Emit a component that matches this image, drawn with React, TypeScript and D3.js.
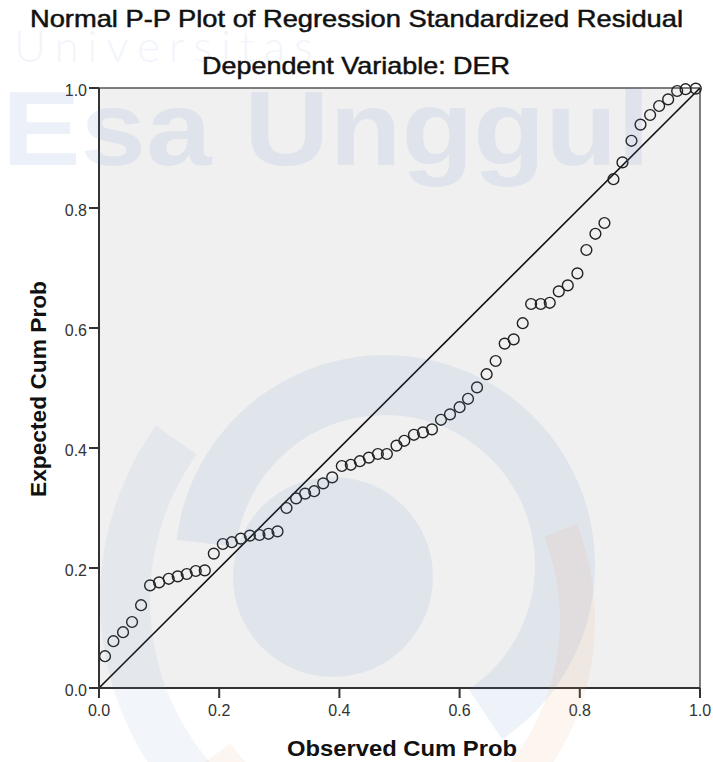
import * as d3 from "d3";

const observed = [
  0.01, 0.024, 0.04, 0.055, 0.07, 0.085, 0.1, 0.116, 0.131, 0.146,
  0.161, 0.176, 0.191, 0.206, 0.221, 0.236, 0.251, 0.267, 0.282, 0.297,
  0.312, 0.328, 0.343, 0.358, 0.373, 0.388, 0.404, 0.419, 0.434, 0.449,
  0.464, 0.479, 0.495, 0.508, 0.524, 0.539, 0.554, 0.569, 0.584, 0.6,
  0.614, 0.629, 0.645, 0.66, 0.675, 0.69, 0.705, 0.719, 0.735, 0.75,
  0.765, 0.78, 0.796, 0.811, 0.826, 0.841, 0.856, 0.871, 0.886, 0.901,
  0.917, 0.932, 0.947, 0.962, 0.976, 0.993,
];

const expected = [
  0.053, 0.078, 0.093, 0.11, 0.138, 0.171, 0.176, 0.182, 0.186, 0.19,
  0.195, 0.196, 0.224, 0.24, 0.243, 0.249, 0.254, 0.255, 0.257, 0.261,
  0.3, 0.316, 0.324, 0.328, 0.341, 0.351, 0.37, 0.372, 0.378, 0.384,
  0.39, 0.39, 0.404, 0.412, 0.422, 0.426, 0.431, 0.447, 0.456, 0.468,
  0.482, 0.501, 0.523, 0.545, 0.574, 0.581, 0.608, 0.64, 0.64, 0.642,
  0.661, 0.671, 0.691, 0.73, 0.757, 0.775, 0.848, 0.876, 0.912, 0.939,
  0.955, 0.97, 0.981, 0.995, 0.998, 0.999,
];

const tickValues = [0, 0.2, 0.4, 0.6, 0.8, 1];
const tickLabels = ["0.0", "0.2", "0.4", "0.6", "0.8", "1.0"];

const W = 713;
const H = 762;
const font = "Arial, 'Liberation Sans', sans-serif";

const Watermark = () => {
  const blue = "#5d86cf";
  const orange = "#f09a62";
  const arc = d3.arc();
  return (
    <g pointerEvents="none">
      <text
        x={14}
        y={62}
        fontFamily="Lato, 'Open Sans', sans-serif"
        fontWeight={300}
        fontSize={44}
        letterSpacing={9}
        fill={blue}
        opacity={0.08}
      >
        Universitas
      </text>
      <text
        x={2}
        y={165}
        fontFamily={font}
        fontWeight="bold"
        fontSize={106}
        textLength={648}
        lengthAdjust="spacingAndGlyphs"
        fill={blue}
        opacity={0.11}
      >
        Esa Unggul
      </text>
      {/* logo swoosh on the left */}
      <path
        transform="translate(400,600)"
        d={arc({ innerRadius: 250, outerRadius: 300, startAngle: -2.6, endAngle: -0.95 }) || ""}
        fill={blue}
        opacity={0.08}
      />
      {/* ring */}
      <path
        transform="translate(385,565)"
        d={arc({ innerRadius: 150, outerRadius: 210, startAngle: -1.45, endAngle: 2.55 }) || ""}
        fill={blue}
        opacity={0.1}
      />
      <circle cx={333} cy={577} r={100} fill={blue} opacity={0.1} />
      {/* orange arcs */}
      <path
        transform="translate(400,620)"
        d={arc({ innerRadius: 210, outerRadius: 250, startAngle: -2.2, endAngle: -3.3 }) || ""}
        fill={orange}
        opacity={0.1}
      />
      <path
        transform="translate(330,620)"
        d={arc({ innerRadius: 230, outerRadius: 265, startAngle: 1.2, endAngle: 2.5 }) || ""}
        fill={orange}
        opacity={0.1}
      />
    </g>
  );
};

const PPPlot = () => {
  const left = 99;
  const right = 700;
  const top = 88;
  const bottom = 688;

  const x = d3.scaleLinear().domain([0, 1]).range([left, right]);
  const y = d3.scaleLinear().domain([0, 1]).range([bottom, top]);

  const pts = observed.map((o, i) => ({ o, e: expected[i] }));

  return (
    <svg
      width={W}
      height={H}
      style={{ position: "absolute", left: 0, top: 0, background: "#fff" }}
    >
      <rect x={left} y={top} width={right - left} height={bottom - top} fill="#f0f0f0" />

      {/* frame */}
      <line x1={left} x2={right} y1={top} y2={top} stroke="#555" strokeWidth={1.5} />
      <line x1={right} x2={right} y1={top} y2={bottom} stroke="#555" strokeWidth={1.5} />

      {/* reference line */}
      <line x1={x(0)} y1={y(0)} x2={x(1)} y2={y(1)} stroke="#111" strokeWidth={1.6} />

      {pts.map((d, i) => (
        <circle
          key={i}
          cx={x(d.o)}
          cy={y(d.e)}
          r={5.4}
          fill="none"
          stroke="#222"
          strokeWidth={1.4}
        />
      ))}

      {/* axes */}
      <line x1={left} x2={left} y1={top} y2={bottom} stroke="#333" strokeWidth={2} />
      <line x1={left} x2={right} y1={bottom} y2={bottom} stroke="#333" strokeWidth={2} />

      {tickValues.map((t, i) => (
        <g key={"x" + i}>
          <line x1={x(t)} x2={x(t)} y1={bottom} y2={bottom + 10} stroke="#333" strokeWidth={2} />
          <text
            x={x(t)}
            y={bottom + 28}
            textAnchor="middle"
            fontFamily={font}
            fontSize={16}
            fill="#333"
          >
            {tickLabels[i]}
          </text>
        </g>
      ))}
      {tickValues.map((t, i) => (
        <g key={"y" + i}>
          <line x1={left - 10} x2={left} y1={y(t)} y2={y(t)} stroke="#333" strokeWidth={2} />
          <text
            x={left - 12}
            y={y(t) + 8}
            textAnchor="end"
            fontFamily={font}
            fontSize={16}
            fill="#333"
          >
            {tickLabels[i]}
          </text>
        </g>
      ))}

      {/* titles */}
      <text
        x={W / 2}
        y={27}
        textAnchor="middle"
        fontFamily={font}
        fontSize={24}
        textLength={653}
        lengthAdjust="spacingAndGlyphs"
        fill="#111"
        stroke="#111"
        strokeWidth={0.5}
      >
        Normal P-P Plot of Regression Standardized Residual
      </text>
      <text
        x={356}
        y={74}
        textAnchor="middle"
        fontFamily={font}
        fontSize={24}
        textLength={308}
        lengthAdjust="spacingAndGlyphs"
        fill="#111"
        stroke="#111"
        strokeWidth={0.5}
      >
        Dependent Variable: DER
      </text>
      <text
        x={402}
        y={756}
        textAnchor="middle"
        fontFamily={font}
        fontWeight="bold"
        fontSize={22}
        textLength={230}
        lengthAdjust="spacingAndGlyphs"
        fill="#111"
      >
        Observed Cum Prob
      </text>
      <text
        transform="translate(46,389) rotate(-90)"
        textAnchor="middle"
        fontFamily={font}
        fontWeight="bold"
        fontSize={22}
        textLength={216}
        lengthAdjust="spacingAndGlyphs"
        fill="#111"
      >
        Expected Cum Prob
      </text>

      <Watermark />
    </svg>
  );
};

export default function App() {
  return <PPPlot />;
}
